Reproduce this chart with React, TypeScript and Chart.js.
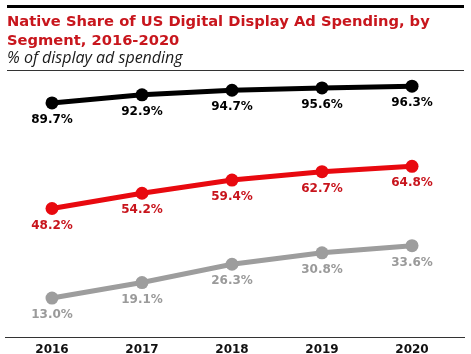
import React, { useEffect, useRef } from "react";
import { Chart, registerables } from "chart.js";

Chart.register(...registerables);

const years = ["2016", "2017", "2018", "2019", "2020"];
const seriesTop = [89.7, 92.9, 94.7, 95.6, 96.3];
const seriesMid = [48.2, 54.2, 59.4, 62.7, 64.8];
const seriesLow = [13.0, 19.1, 26.3, 30.8, 33.6];

const labelPlugin = {
  id: "pointLabels",
  afterDatasetsDraw(chart: any) {
    const ctx = chart.ctx;
    chart.data.datasets.forEach((ds: any, i: number) => {
      const meta = chart.getDatasetMeta(i);
      ctx.save();
      ctx.font = "bold 12px 'DejaVu Sans'";
      ctx.fillStyle = ds.labelColor;
      ctx.textAlign = "center";
      ctx.textBaseline = "middle";
      meta.data.forEach((pt: any, j: number) => {
        ctx.fillText(ds.data[j].toFixed(1) + "%", pt.x, pt.y + 17);
      });
      ctx.restore();
    });
  },
};

export default function App() {
  const ref = useRef<HTMLCanvasElement>(null);
  useEffect(() => {
    document.body.style.margin = "0";
    const mk = (data: number[], color: string, labelColor: string) => ({
      data,
      borderColor: color,
      backgroundColor: color,
      pointBackgroundColor: color,
      pointBorderColor: color,
      borderWidth: 5,
      pointRadius: 6.5,
      pointBorderWidth: 0,
      tension: 0,
      labelColor,
    });
    const chart = new Chart(ref.current!, {
      type: "line",
      data: {
        labels: years,
        datasets: [
          mk(seriesTop, "#000000", "#000000"),
          mk(seriesMid, "#e8090f", "#c8141c"),
          mk(seriesLow, "#9d9d9d", "#9a9a9a"),
        ] as any,
      },
      options: {
        animation: false,
        responsive: false,
        events: [],
        layout: { padding: { top: 77, left: 7, right: 14, bottom: 0 } },
        plugins: { legend: { display: false }, tooltip: { enabled: false }, title: { display: false } },
        scales: {
          x: {
            type: "category",
            offset: true,
            grid: { display: false, drawTicks: false },
            border: { display: false },
            ticks: {
              padding: 6,
              color: "#111111",
              font: { family: "'DejaVu Sans'", weight: "bold", size: 12 },
            },
            afterFit: (s: any) => {
              s.height = 17;
            },
          },
          y: { display: false, min: -2.3, max: 99.9 },
        },
      },
      plugins: [labelPlugin],
    });
    return () => chart.destroy();
  }, []);

  return (
    <div style={{ position: "fixed", left: 0, top: 0, width: 471, height: 354, background: "#fff" }}>
      <canvas ref={ref} width={471} height={354} style={{ position: "absolute", left: 0, top: 0 }} />
      <div style={{ position: "absolute", left: 7, top: 5, width: 457, height: 3, background: "#000" }} />
      <div
        style={{
          position: "absolute",
          left: 7,
          top: 11,
          width: 460,
          fontFamily: "'DejaVu Sans'",
          fontWeight: "bold",
          fontSize: 14.7,
          lineHeight: "19px",
          color: "#c8161d",
        }}
      >
        Native Share of US Digital Display Ad Spending, by
        <br />
        Segment, 2016-2020
      </div>
      <div
        style={{
          position: "absolute",
          left: 7,
          top: 47,
          fontFamily: "'Open Sans'",
          fontStyle: "italic",
          fontWeight: 400,
          fontSize: 16,
          lineHeight: "20px",
          color: "#1a1a1a",
        }}
      >
        % of display ad spending
      </div>
      <div style={{ position: "absolute", left: 7, top: 70, width: 457, height: 1, background: "#333" }} />
      <div style={{ position: "absolute", left: 5, top: 337, width: 460, height: 1, background: "#333" }} />
    </div>
  );
}
